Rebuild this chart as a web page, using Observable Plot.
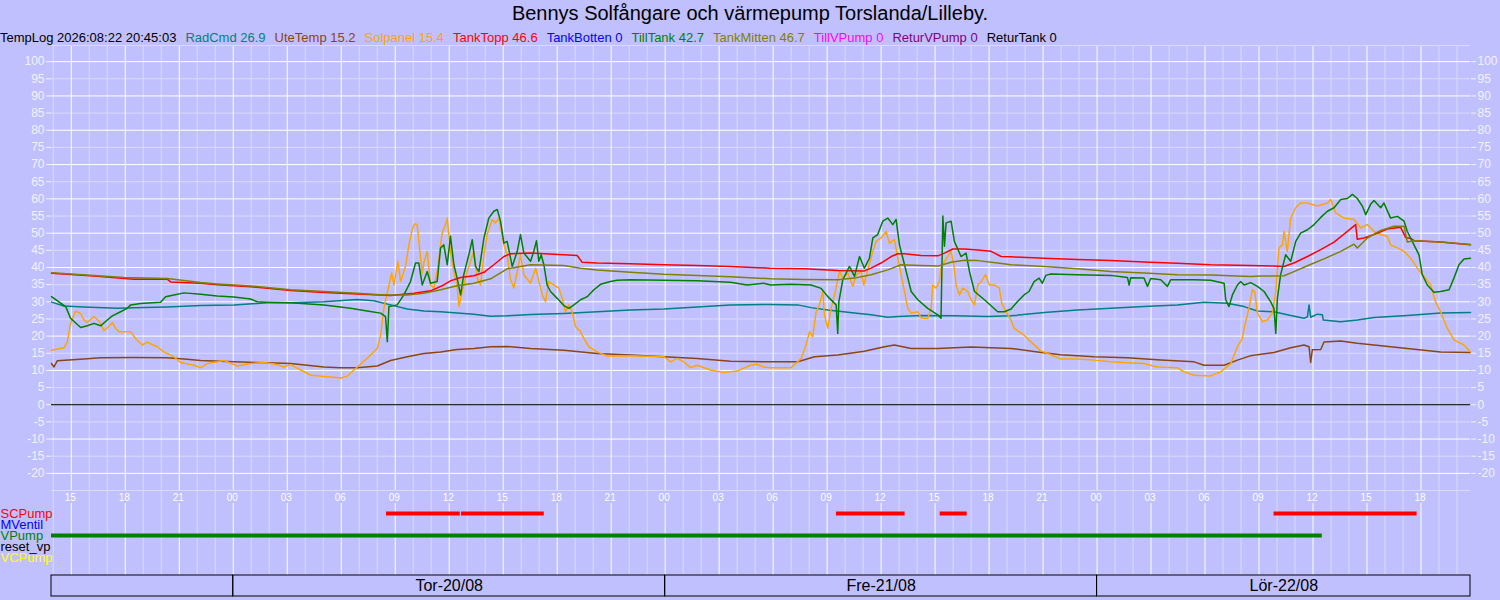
<!DOCTYPE html>
<html><head><meta charset="utf-8">
<script src="https://cdn.jsdelivr.net/npm/d3@7"></script>
<script src="https://cdn.jsdelivr.net/npm/@observablehq/plot@0.6"></script>
<style>
html,body{margin:0;padding:0}
body{background:#C0C0FF;font-family:"Liberation Sans",Arial,sans-serif;width:1500px;height:600px;overflow:hidden}
#title{height:26px;line-height:26px;text-align:center;font-size:20px;color:#000;white-space:nowrap}
#legend{height:19px;line-height:24px;font-size:13px;display:flex;gap:9px;white-space:nowrap;overflow:visible}
#chart svg{display:block}
</style></head><body>
<div id="title"></div>
<div id="legend"></div>
<div id="chart"></div>
<script>
// ---------- texts ----------
const titleText = "Bennys Solfångare och värmepump Torslanda/Lilleby.";
const logStamp = "TempLog 2026:08:22 20:45:03";
const legendNames  = ["RadCmd","UteTemp","Solpanel","TankTopp","TankBotten","TillTank","TankMitten","TillVPump","ReturVPump","ReturTank"];
const legendValues = [26.9, 15.2, 15.4, 46.6, 0, 42.7, 46.7, 0, 0, 0];
const legendColors = ["#008080","#8B4513","#FFA500","#FF0000","#0000FF","#008000","#808000","#FF00FF","#800080","#000000"];

// ---------- time frame ----------
const T0 = Date.UTC(2026, 7, 20);               // Tor 20/08 00:00, series times are hours from here
const xStart = new Date("2026-08-19T13:54:00Z");
const xEnd   = new Date("2026-08-22T20:45:03Z");
const yTicks = [-20,-15,-10,-5,0,5,10,15,20,25,30,35,40,45,50,55,60,65,70,75,80,85,90,95,100];
const yGridMinor = [-25,-15,-5,5,15,25,35,45,55,65,75,85,95];
const yGridMajor = [-20,-10,10,20,30,40,50,60,70,80,90,100];
const yTop = 104.7, yBottom = -25;

// ---------- series: [hours from T0, °C] ----------
const radCmd = [
[-10.1,29.9],[-9.41,28.8],[-8.3,28.5],[-6.44,28.1],[-5.52,28.3],[-3.67,28.5],[-1.81,28.9],[0.04,29.1],[1.89,29.7],[3.19,29.7],
[5.04,30.0],[6.89,30.7],[7.81,30.3],[8.74,29.1],[9.67,27.9],[10.59,27.3],[11.52,27.1],[13.37,26.4],[14.3,25.8],[15.22,25.9],[16.52,26.3],
[18.37,26.6],[20.22,27.1],[22.07,27.6],[23.93,27.9],[25.78,28.5],[27.63,29.1],[29.85,29.2],
[31.37,29.1],[32.11,28.3],[33.04,27.6],[34.52,26.7],[35.44,26.2],[36.37,25.5],[36.93,25.7],[38.22,26.0],[40.07,25.9],[41.93,25.7],[43.22,25.9],
[45.06,26.9],[46.91,27.6],[48.76,28.1],[50.61,28.6],[52.46,29.1],[53.94,29.9],[55.24,29.6],[56.17,28.6],
[56.91,27.3],[57.83,27.1],[58.76,26.0],[59.5,25.2],[59.69,25.6],[59.78,29.1],[59.87,25.5],[60.24,26.4],[60.52,26.2],[60.57,24.7],[61.54,24.2],[62.46,24.7],[63.39,25.4],[64.31,25.7],[65.24,26.0],[67.09,26.7],[68.75,26.9]
];
const uteTemp = [
[-10.1,12.0],[-9.96,11.0],[-9.78,12.8],[-8.3,13.3],[-7.37,13.7],[-5.52,13.8],[-3.67,13.7],[-2.74,13.3],[-1.81,12.9],[0.04,12.5],[1.89,12.2],[3.19,12.0],
[5.04,11.0],[5.96,10.8],[6.89,10.8],[8.0,11.3],[8.74,12.9],[9.67,14.0],[10.59,14.9],[11.52,15.4],[12.44,16.1],[13.37,16.4],[14.3,16.9],[15.22,17.0],[16.52,16.4],
[18.37,15.9],[20.22,14.9],[22.07,14.5],[23.93,14.0],[25.78,13.5],[27.63,12.7],[29.85,12.5],
[31.37,12.5],[32.3,14.0],[33.59,14.5],[35.07,15.6],[36.19,16.9],[36.74,17.4],[37.67,16.4],[39.15,16.4],[41.0,16.8],[43.22,16.4],
[44.69,15.4],[45.98,14.6],[47.83,14.0],[49.69,13.7],[51.54,13.0],[53.39,12.5],[53.94,11.5],[55.06,11.5],[55.8,13.0],[56.54,14.3],
[56.91,14.6],[57.83,15.2],[58.76,16.6],[59.5,17.4],[59.78,16.9],[59.87,12.3],[59.96,16.0],[60.43,16.1],[60.61,18.3],[61.54,18.6],[62.46,17.9],[63.39,17.4],[64.31,16.9],[65.24,16.4],[66.17,15.9],[67.09,15.4],[68.75,15.2]
];
const solpanel = [
[-10.1,15.9],[-9.41,16.6],[-9.22,18.4],[-9.04,23.7],[-8.76,27.3],[-8.48,26.6],[-8.3,24.7],[-8.11,24.0],[-7.74,25.7],[-7.46,24.4],[-7.19,21.6],[-6.91,22.8],[-6.72,24.0],[-6.54,22.3],[-6.35,21.3],[-5.7,21.3],[-5.43,19.3],[-5.06,17.4],[-4.78,18.2],[-4.22,16.9],[-3.85,15.4],[-3.3,14.0],[-2.93,12.3],[-2.19,11.5],[-1.81,10.8],[-1.44,12.0],[-0.89,12.5],[-0.52,12.9],[0.22,11.3],[0.96,12.0],[1.7,12.3],[2.44,11.7],[2.81,11.0],
[3.19,11.7],[4.3,8.6],[5.41,8.1],[5.96,7.8],[6.33,8.3],[6.89,11.0],[7.44,13.5],[8.0,16.4],[8.19,20.3],[8.37,28.1],[8.65,34.9],[8.8,38.4],[8.93,34.9],[9.15,41.8],[9.3,35.9],[9.57,40.3],[9.76,46.6],[9.94,51.0],[10.07,52.7],[10.22,52.5],[10.37,44.7],[10.5,38.4],[10.59,41.3],[10.78,44.7],[10.96,34.9],[11.15,34.0],[11.33,38.8],[11.61,50.1],[11.8,52.5],[11.89,54.4],[12.07,44.7],[12.26,38.8],[12.44,34.9],[12.54,28.6],[12.72,33.0],[13.0,38.8],[13.37,44.7],[13.56,36.9],[13.74,34.9],[13.93,43.7],[14.11,49.6],[14.39,54.0],[14.57,53.0],[14.76,54.4],[15.04,46.6],[15.22,43.7],[15.41,36.4],[15.59,34.0],[15.78,38.8],[15.96,43.7],[16.15,37.9],[16.52,35.4],
[16.8,39.8],[16.89,37.9],[17.17,32.0],[17.35,30.0],[17.54,35.9],[17.81,34.9],[18.09,34.0],[18.28,31.0],[18.46,27.1],[18.65,29.1],[18.83,27.1],[19.02,22.8],[19.3,21.3],[19.48,19.3],[19.76,16.9],[20.22,15.4],[20.78,14.2],[22.07,14.3],[23.93,14.0],[24.3,12.5],[24.67,13.5],[25.04,12.5],[25.41,10.8],[25.78,11.5],[26.52,10.1],[27.26,9.4],[28.0,9.8],[28.74,11.5],[29.11,11.8],[29.48,11.0],[29.85,10.8],
[31.0,10.8],[31.56,13.5],[31.83,17.4],[32.02,21.3],[32.2,19.8],[32.39,27.1],[32.57,29.1],[32.76,33.0],[32.85,26.2],[33.04,22.3],[33.22,28.1],[33.41,32.0],[33.69,38.8],[33.87,36.9],[34.15,38.4],[34.43,34.5],[34.61,37.9],[34.89,38.8],[35.04,34.9],[35.26,39.3],[35.54,44.7],[35.72,47.6],[36.0,48.6],[36.28,50.5],[36.46,47.1],[36.74,48.1],[36.93,42.7],[37.11,37.9],[37.3,33.0],[37.48,28.1],[37.67,26.7],[38.04,27.1],[38.22,25.3],[38.59,25.1],[38.78,28.1],[38.87,34.9],[39.06,34.0],[39.24,35.9],[39.33,39.8],[39.52,41.8],[39.7,43.2],[39.89,44.7],[40.04,40.8],[40.17,34.9],[40.35,32.0],[40.54,34.0],[40.81,33.0],[41.0,30.6],[41.19,29.1],[41.37,34.9],[41.56,35.9],[41.8,37.9],[42.02,34.9],[42.3,34.9],[42.57,34.0],[42.7,29.6],[42.94,27.1],[43.22,24.6],
[43.39,22.3],[43.94,20.3],[44.31,18.4],[44.87,15.7],[45.24,15.0],[45.98,13.3],[46.91,13.3],[47.83,13.0],[48.76,12.5],[49.69,12.2],[50.61,12.0],[51.35,11.0],[52.46,10.8],[52.83,9.6],[53.39,8.6],[54.31,8.4],[54.87,9.6],[55.43,12.0],[55.8,16.9],[56.07,19.3],
[56.17,22.3],[56.44,28.1],[56.63,33.5],[56.76,33.0],[56.91,26.7],[57.19,24.2],[57.46,24.7],[57.74,26.7],[57.93,33.0],[58.11,45.7],[58.3,46.6],[58.39,50.5],[58.57,44.7],[58.76,54.4],[59.04,57.4],[59.31,58.8],[59.69,58.8],[60.24,57.9],[60.8,58.8],[60.98,59.8],[61.26,55.9],[61.72,54.4],[62.28,54.0],[62.65,51.5],[63.02,52.5],[63.39,50.5],[63.76,49.6],[64.13,49.1],[64.31,46.6],[64.69,45.7],[65.06,44.7],[65.43,42.7],[65.8,39.8],[66.17,37.4],[66.54,34.9],[66.81,30.0],[67.09,27.1],[67.46,22.3],[67.83,18.9],[68.39,17.4],[68.75,15.4]
];
const tankTopp = [
[-10.1,38.3],[-7.74,37.5],[-5.52,36.6],[-3.67,36.6],[-3.48,35.8],[-1.81,35.4],[-0.89,35.0],[0.96,34.4],[3.19,33.3],
[5.04,32.7],[6.89,32.3],[8.74,31.8],[10.04,32.5],[10.96,33.2],[11.7,34.9],[12.07,36.1],[12.63,37.1],[13.37,37.6],[13.93,38.6],[14.48,40.8],[15.04,43.2],[15.41,44.0],[16.52,44.2],
[18.37,43.7],[19.11,43.5],[19.39,41.5],[20.22,41.3],[22.07,41.1],[23.93,40.8],[25.78,40.6],[27.63,40.3],[29.85,39.8],
[31.74,39.6],[33.59,39.1],[35.07,39.0],[35.44,39.8],[36.0,41.3],[36.56,43.2],[36.93,44.0],[37.3,44.0],[38.22,43.5],[39.15,43.4],[39.52,44.2],[39.98,45.4],[40.63,45.4],[41.37,45.1],[42.11,44.7],[42.67,43.2],[43.22,43.1],
[45.06,42.7],[46.91,42.3],[48.76,42.0],[50.61,41.6],[52.46,41.2],[54.31,40.8],[56.54,40.6],
[57.83,40.4],[58.39,40.3],[58.94,41.3],[59.69,43.2],[60.43,45.2],[61.17,47.4],[61.91,50.5],[62.37,52.5],[62.46,48.2],[62.83,48.6],[63.39,49.6],[64.13,51.2],[64.87,51.7],[65.15,48.7],[65.43,48.5],[65.61,47.8],[67.09,47.4],[68.75,46.6]
];
const tillTank = [
[-10.1,31.5],[-9.59,29.6],[-9.31,28.6],[-9.04,25.2],[-8.48,22.5],[-8.11,23.0],[-7.74,23.7],[-7.37,23.0],[-7.0,24.7],[-6.72,25.9],[-6.26,27.1],[-5.89,28.1],[-5.7,29.1],[-5.15,29.5],[-4.04,29.9],[-3.76,31.5],[-3.3,32.0],[-2.74,32.6],[-1.81,32.2],[-0.89,31.7],[0.04,31.4],[0.96,30.8],[1.33,30.0],[1.89,29.9],[3.19,29.7],
[5.04,29.1],[6.52,28.1],[7.44,27.3],[8.19,26.7],[8.46,25.7],[8.56,18.4],[8.65,28.6],[9.11,29.1],[9.48,32.0],[9.85,35.9],[10.13,41.3],[10.31,41.3],[10.5,34.9],[10.78,38.8],[10.96,35.4],[11.33,35.9],[11.52,45.7],[11.7,46.6],[11.89,40.8],[12.07,49.1],[12.26,40.8],[12.44,36.9],[12.63,32.0],[12.81,37.9],[13.09,43.7],[13.28,48.1],[13.46,40.3],[13.65,38.8],[13.93,48.6],[14.2,54.4],[14.48,56.4],[14.67,56.9],[14.85,53.5],[15.04,47.1],[15.22,47.6],[15.5,40.3],[15.78,44.7],[15.96,49.6],[16.15,44.2],[16.52,41.8],
[16.7,44.7],[16.85,47.8],[16.98,41.8],[17.11,43.7],[17.26,40.8],[17.44,34.9],[17.63,33.0],[18.0,31.0],[18.37,28.9],[18.65,28.1],[18.93,29.1],[19.3,30.6],[19.67,31.5],[20.04,33.5],[20.41,35.1],[20.96,35.9],[21.33,36.3],[22.07,36.4],[23.93,36.3],[25.78,36.1],[27.63,35.7],[28.56,34.9],[29.48,35.4],[29.85,34.9],
[31.0,35.1],[32.11,34.9],[32.67,33.9],[33.04,31.5],[33.5,29.1],[33.59,20.8],[33.65,30.0],[33.87,36.4],[34.24,40.3],[34.52,37.4],[34.8,43.2],[35.07,39.8],[35.35,42.7],[35.54,48.6],[35.81,49.6],[36.09,53.5],[36.37,54.4],[36.65,52.5],[36.83,54.0],[37.02,46.6],[37.3,40.8],[37.67,33.0],[38.04,30.6],[38.59,28.1],[39.15,26.2],[39.33,25.2],[39.43,55.0],[39.52,46.2],[39.61,53.0],[39.89,53.5],[40.07,47.6],[40.44,43.2],[40.72,44.2],[40.91,38.8],[41.19,33.0],[41.74,30.6],[42.48,27.1],[42.85,27.1],[43.22,27.9],
[43.57,30.0],[43.94,32.0],[44.22,33.0],[44.5,35.9],[44.78,36.9],[44.96,35.4],[45.15,37.7],[45.43,38.1],[46.91,37.9],[48.76,37.7],[49.69,37.1],[49.78,34.9],[49.87,37.0],[50.61,36.9],[50.8,34.5],[50.98,36.8],[51.54,36.4],[51.91,34.5],[52.09,36.4],[53.39,36.4],[54.31,36.3],[55.06,35.4],[55.15,30.6],[55.33,28.6],[55.52,32.0],[55.8,34.9],[55.98,35.9],[56.17,34.9],[56.54,35.6],
[56.91,34.5],[57.28,33.0],[57.65,30.0],[57.83,28.1],[57.93,20.8],[58.02,31.0],[58.2,37.9],[58.48,43.7],[58.76,41.8],[59.04,47.6],[59.31,50.0],[59.69,51.0],[60.06,52.5],[60.43,54.6],[60.8,56.4],[61.17,57.4],[61.54,59.8],[61.91,60.1],[62.19,61.3],[62.46,60.1],[62.74,57.9],[62.93,55.4],[63.2,58.4],[63.39,59.5],[63.76,57.4],[63.94,58.8],[64.31,54.4],[64.69,54.9],[65.06,53.5],[65.24,50.5],[65.61,46.6],[65.89,43.7],[66.07,37.9],[66.35,34.9],[66.72,32.8],[67.09,33.0],[67.56,33.5],[67.83,36.9],[68.11,40.8],[68.39,42.5],[68.75,42.7]
];
const tankMitten = [
[-10.1,38.5],[-7.74,37.7],[-6.07,37.1],[-3.67,36.8],[-1.81,35.6],[-0.89,35.2],[0.96,34.6],[3.19,33.5],
[5.04,33.0],[6.89,32.5],[8.37,32.0],[9.67,32.0],[10.59,32.5],[11.52,33.5],[12.44,34.7],[13.37,35.4],[14.3,36.7],[15.22,39.6],[16.52,40.8],
[18.37,40.6],[19.3,39.8],[20.22,39.3],[22.07,38.6],[23.93,38.0],[25.78,37.7],[27.63,37.3],[29.85,36.7],
[31.74,36.5],[33.59,36.4],[34.52,36.9],[35.44,37.9],[36.37,39.3],[37.11,40.8],[38.22,40.6],[39.15,40.4],[39.89,41.5],[40.63,42.1],[41.37,42.0],[42.48,41.3],[43.22,40.8],
[45.06,40.3],[46.91,39.6],[48.76,38.8],[50.61,38.4],[52.46,37.9],[54.31,37.8],[56.54,37.4],
[57.09,37.5],[58.39,37.6],[58.94,38.8],[59.69,40.5],[60.61,42.5],[61.54,44.7],[62.28,46.8],[62.46,45.7],[63.02,48.6],[63.76,50.8],[64.5,52.0],[65.06,52.0],[65.24,47.4],[65.61,47.8],[67.09,47.4],[68.75,46.7]
];

// ---------- digital channels ----------
const pumpNames  = ["SCPump","MVentil","VPump","reset_vp","VCPump"];
const pumpColors = ["#FF0000","#0000FF","#008000","#000000","#FFFF00"];
const scPumpRuns = [["2026-08-20T08:31Z","2026-08-20T12:37Z"],["2026-08-20T12:41Z","2026-08-20T17:17Z"],["2026-08-21T09:31Z","2026-08-21T13:20Z"],["2026-08-21T15:17Z","2026-08-21T16:47Z"],["2026-08-22T09:50Z","2026-08-22T17:47Z"]];
const mVentilRuns = [];
const vPumpRuns = [["2026-08-19T13:54Z","2026-08-22T12:31Z"]];
const resetVpRuns = [];
const vcPumpRuns = [];
const pumpRuns = [scPumpRuns, mVentilRuns, vPumpRuns, resetVpRuns, vcPumpRuns];

// ---------- day boxes ----------
const dayStarts = ["2026-08-19T00:00Z","2026-08-20T00:00Z","2026-08-21T00:00Z","2026-08-22T00:00Z"];
const dayLabels = ["","Tor-20/08","Fre-21/08","Lör-22/08"];

// ---------- build ----------
const FONT = '"Liberation Sans", Arial, sans-serif';
const MINOR = "#DADAFF";
const AXC = "#F2F2FF";
const at = h => new Date(T0 + h * 3600e3);

document.getElementById("title").textContent = titleText;
const leg = document.getElementById("legend");
const first = document.createElement("span");
first.textContent = logStamp; first.style.color = "#000"; leg.appendChild(first);
legendNames.forEach((n, i) => {
  const s = document.createElement("span");
  s.textContent = n + " " + legendValues[i];
  s.style.color = legendColors[i];
  leg.appendChild(s);
});

const hours = d3.utcHour.range(d3.utcHour.ceil(xStart), xEnd);
const hoursMajor = hours.filter(d => d.getUTCHours() % 3 === 0);
const hoursMinor = hours.filter(d => d.getUTCHours() % 3 !== 0);
const xOpt = {type: "utc", domain: [xStart, xEnd], axis: null};
const baseStyle = {background: "transparent", fontFamily: FONT, overflow: "visible"};

const series = [
  {data: radCmd, color: legendColors[0]},
  {data: uteTemp, color: legendColors[1]},
  {data: solpanel, color: legendColors[2]},
  {data: tankTopp, color: legendColors[3]},
  {data: tillTank, color: legendColors[5]},
  {data: tankMitten, color: legendColors[6]}
];

const p1 = Plot.plot({
  width: 1500, height: 446, marginLeft: 51, marginRight: 30, marginTop: 0, marginBottom: 1,
  style: baseStyle,
  x: xOpt,
  y: {domain: [yBottom, yTop], axis: null},
  marks: [
    Plot.ruleY(yGridMinor, {stroke: MINOR}),
    Plot.ruleX(hoursMinor, {stroke: MINOR}),
    Plot.ruleX(hoursMajor, {stroke: "#FFFFFF"}),
    Plot.ruleY(yGridMajor, {stroke: "#FFFFFF"}),
    Plot.ruleY([yTop], {stroke: MINOR}),
    Plot.ruleY([0], {stroke: "#000000"}),
    ...series.map(s => Plot.line(s.data, {x: d => at(d[0]), y: d => d[1], stroke: s.color, strokeWidth: 1.5})),
    Plot.axisY(yTicks, {anchor: "left", tickSize: 5, tickPadding: 2, color: AXC, fontSize: 12, tickFormat: d => String(d)}),
    Plot.axisY(yTicks, {anchor: "right", tickSize: 5, tickPadding: 2, color: AXC, fontSize: 12, tickFormat: d => String(d)})
  ]
});

const hourFmt = d3.utcFormat("%H");
const p2 = Plot.plot({
  width: 1500, height: 84, marginLeft: 51, marginRight: 30, marginTop: 0, marginBottom: 0,
  style: baseStyle,
  x: xOpt,
  y: {type: "point", domain: pumpNames, range: [19.8, 67.5], padding: 0, axis: null},
  marks: [
    Plot.ruleX(hoursMinor, {stroke: MINOR}),
    Plot.ruleX(hoursMajor, {stroke: "#FFFFFF", insetTop: 12}),
    Plot.text(hoursMajor, {x: d => d, text: d => hourFmt(d), frameAnchor: "top", lineAnchor: "middle", dy: 6, dx: -1, fill: "#FFFFFF", fontSize: 10}),
    ...pumpNames.map((n, i) => Plot.ruleY(pumpRuns[i], {x1: d => new Date(d[0]), x2: d => new Date(d[1]), y: () => n, stroke: pumpColors[i], strokeWidth: 4})),
    ...pumpNames.map((n, i) => Plot.text([n], {y: d => d, text: d => d, frameAnchor: "left", textAnchor: "start", dx: -51, fill: pumpColors[i], fontSize: 13}))
  ]
});

const days = dayStarts.map((s, i) => {
  const a = new Date(Math.max(+new Date(s), +xStart));
  const b = new Date(Math.min(+new Date(s) + 864e5, +xEnd));
  return {a, b, label: dayLabels[i]};
});
const p3 = Plot.plot({
  width: 1500, height: 25, marginLeft: 51, marginRight: 30, marginTop: 0, marginBottom: 4,
  style: baseStyle,
  x: xOpt,
  marks: [
    Plot.rect(days, {x1: "a", x2: "b", stroke: "#000000", fill: "none"}),
    Plot.text(days, {x: d => new Date((+d.a + +d.b) / 2), text: "label", fill: "#000000", fontSize: 16})
  ]
});

const chart = document.getElementById("chart");
chart.appendChild(p1); chart.appendChild(p2); chart.appendChild(p3);
</script>
</body></html>
